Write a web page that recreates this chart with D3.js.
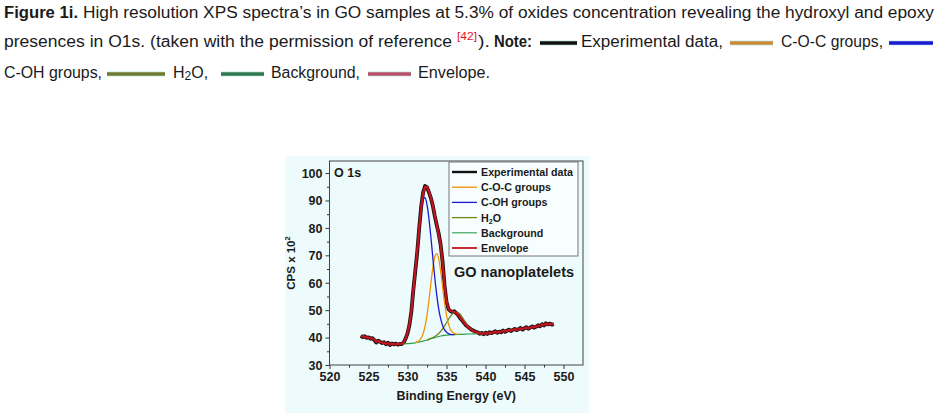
<!DOCTYPE html>
<html><head><meta charset="utf-8">
<script src="https://cdn.jsdelivr.net/npm/d3@7/dist/d3.min.js"></script>
<style>body{margin:0;background:#fff}svg{display:block}</style>
</head><body>
<svg id="c" width="938" height="413"></svg>
<script>
// ---------- data ----------
const xTickValues = [520, 525, 530, 535, 540, 545, 550];
const xMinorTicks = [522.5, 527.5, 532.5, 537.5, 542.5, 547.5];
const yTickValues = [30, 40, 50, 60, 70, 80, 90, 100];
const yMinorTicks = [35, 45, 55, 65, 75, 85, 95];

// experimental data, binding energy starts at 524.0 eV, step 0.25 eV
const expStart = 524.0, expStep = 0.25;
const expValues = [
 40.6,40.2,40.5,39.9,40.1,39.6,39.8,39.1,38.2,38.9,38.4,38.0,38.3,37.6,38.1,37.3,37.9,37.5,37.8,37.4,
 37.7,37.6,38.2,39.6,41.5,44.6,49.6,57.5,64.3,71.2,80.0,87.6,92.9,95.3,94.8,93.0,90.9,88.0,84.3,81.0,
 77.9,73.8,67.6,59.0,53.0,50.4,49.7,49.3,49.6,48.9,48.2,47.1,46.3,45.4,44.5,43.9,43.3,42.8,42.5,42.1,
 41.9,41.4,41.7,41.2,41.8,41.3,42.0,41.6,41.9,42.3,41.7,42.2,41.9,42.6,42.1,42.5,42.9,42.4,42.8,43.2,
 42.7,43.1,43.5,42.9,43.4,43.8,43.2,43.7,44.1,43.6,44.0,44.5,44.1,44.9,44.4,45.2,44.8,45.1,44.7,44.9
];
const envelopeValues = [
 40.5,40.3,40.4,40.0,40.0,39.7,39.7,39.2,38.4,38.8,38.4,38.1,38.2,37.7,38.0,37.4,37.8,37.6,37.7,37.5,
 37.7,37.7,38.3,39.7,41.6,44.8,49.8,57.2,64.5,71.5,79.8,87.3,92.6,95.0,94.9,93.2,91.0,88.2,84.6,81.2,
 77.6,73.6,67.4,59.4,53.4,50.6,49.8,49.5,49.4,49.0,48.3,47.3,46.4,45.5,44.6,43.9,43.3,42.8,42.4,42.1,
 41.8,41.5,41.6,41.3,41.7,41.4,41.9,41.6,41.9,42.2,41.8,42.2,42.0,42.5,42.2,42.5,42.8,42.5,42.8,43.1,
 42.8,43.1,43.4,43.0,43.4,43.7,43.3,43.7,44.0,43.7,44.0,44.4,44.2,44.8,44.5,45.1,44.8,45.0,44.8,44.9
];

const cohE = [529.5,529.75,530,530.25,530.5,530.75,531,531.25,531.5,531.75,532,532.25,532.5,532.75,533,533.25,533.5,533.75,534,534.25,534.5,534.75,535,535.25,535.5,536];
const cohV = [38.8,39.95,41.9,44.95,49.5,55.7,63.3,71.75,79.9,86.45,90.45,91.0,88.5,83.4,76.6,69.1,61.8,55.5,50.5,46.9,44.4,42.8,42.0,41.45,41.2,41.1];

const cocE = [531,531.25,531.5,531.75,532,532.25,532.5,532.75,533,533.25,533.5,533.75,534,534.25,534.5,534.75,535,535.25,535.5,535.75,536,536.5];
const cocV = [38.2,38.45,38.9,39.8,41.4,44.1,48.2,53.6,59.8,65.5,69.5,70.6,68.7,64.2,58.5,52.8,48.2,45.0,43.0,42.0,41.5,41.2];

const h2oE = [532.5,533,533.5,534,534.5,535,535.5,536,536.5,537,537.5,538,538.5,539,539.5,540];
const h2oV = [39.1,39.7,40.4,41.5,43.2,45.4,47.7,49.2,49.1,47.5,45.3,43.4,42.3,41.7,41.5,41.5];

const bgE = [529.3,530,530.5,531,531.5,532,532.5,533,533.5,534,534.5,535,535.5,536,537,538,539,540,540.5];
const bgV = [37.7,37.8,37.9,38.1,38.4,38.7,39.1,39.6,40.0,40.4,40.7,40.9,41.0,41.1,41.2,41.3,41.4,41.5,41.55];

const legendLabels = ["Experimental data", "C-O-C groups", "C-OH groups", "H2O", "Background", "Envelope"];
const seriesColors = {exp:"#111111", coc:"#f39200", coh:"#1a1ad6", h2o:"#6d8a1e", bg:"#2e9e4a", env:"#c3131e"};

// ---------- drawing ----------
const svg = d3.select("#c");
svg.append("rect").attr("x",0).attr("y",0).attr("width",938).attr("height",413).attr("fill","#ffffff");

// caption
const capFont = "'Liberation Sans Narrow','Arial Narrow','Liberation Sans',Arial,sans-serif";
const cap = svg.append("g").attr("font-family", capFont).attr("font-size", 16).attr("fill", "#1a1a1a");
function capText(str, x0, x1, y, opts={}) {
  const t = cap.append("text").attr("x", x0).attr("y", y).text(str);
  if (opts.bold) t.attr("font-weight", "bold");
  if (opts.fill) t.attr("fill", opts.fill);
  if (opts.size) t.attr("font-size", opts.size);
  t.attr("textLength", x1 - x0).attr("lengthAdjust", "spacingAndGlyphs");
  return t;
}
function capLine(x0, x1, y, color) {
  cap.append("line").attr("x1", x0).attr("x2", x1).attr("y1", y).attr("y2", y)
    .attr("stroke", "#d8f0ee").attr("stroke-width", 5.5);
  cap.append("line").attr("x1", x0).attr("x2", x1).attr("y1", y).attr("y2", y)
    .attr("stroke", color).attr("stroke-width", 3.5);
}
capText("Figure 1i.", 4, 78, 18, {bold:true});
capText("High resolution XPS spectra\u2019s in GO samples at 5.3% of oxides concentration revealing the hydroxyl and epoxy", 83, 934, 18);
capText("presences in O1s. (taken with the permission of reference", 4, 452, 47);
capText("[42]", 457, 477, 40, {fill:"#e8141b", size:11});
capText(").", 478, 490, 47);
capText("Note:", 494, 532, 47, {bold:true});
capLine(540, 577, 43, "#111111");
capText("Experimental data,", 581, 723, 47);
capLine(730, 773, 43, "#c98a3a");
capText("C-O-C groups,", 781, 883, 47);
capLine(889, 933, 43, "#1a1ad0");
capText("C-OH groups,", 4, 102, 77.5);
capLine(107, 165, 74, "#6f7a30");
const h2oCap = cap.append("text").attr("x", 173).attr("y", 77.5);
h2oCap.append("tspan").text("H");
h2oCap.append("tspan").attr("font-size", 12).attr("dy", 2).text("2");
h2oCap.append("tspan").attr("dy", -2).text("O,");
capLine(221, 264, 74, "#2f7a4c");
capText("Background,", 271, 360, 77.5);
capLine(368, 411, 74, "#b5526a");
capText("Envelope.", 418, 490, 77.5);

// chart image background
svg.append("rect").attr("x", 285).attr("y", 156).attr("width", 304).attr("height", 257).attr("fill", "#eefbfc");

const x = d3.scaleLinear().domain([520, 552.5]).range([329.5, 583]);
const y = d3.scaleLinear().domain([30, 104.4]).range([365, 161]);

const chart = svg.append("g").attr("font-family", "'Liberation Sans',Arial,sans-serif");

// axes
const xAxis = chart.append("g").attr("transform", `translate(0,${y(30)})`)
  .call(d3.axisBottom(x).tickValues(xTickValues).tickSize(4).tickSizeOuter(0).tickPadding(3).tickFormat(d3.format("d")));
const xMinorAxis = chart.append("g").attr("transform", `translate(0,${y(30)})`)
  .call(d3.axisBottom(x).tickValues(xMinorTicks).tickSize(2.5).tickSizeOuter(0).tickFormat(""));
const yAxis = chart.append("g").attr("transform", `translate(${x(520)},0)`)
  .call(d3.axisLeft(y).tickValues(yTickValues).tickSize(4).tickSizeOuter(0).tickPadding(3).tickFormat(d3.format("d")));
const yMinorAxis = chart.append("g").attr("transform", `translate(${x(520)},0)`)
  .call(d3.axisLeft(y).tickValues(yMinorTicks).tickSize(2.5).tickSizeOuter(0).tickFormat(""));
[xAxis, xMinorAxis, yAxis, yMinorAxis].forEach(g => {
  g.select(".domain").remove();
  g.selectAll("line").attr("stroke", "#333");
  g.selectAll("text").attr("font-size", 12.5).attr("font-weight", "bold").attr("fill", "#1a1a1a");
});
yAxis.selectAll("text").attr("dy", "0.35em");

// frame
chart.append("rect").attr("x", x(520)).attr("y", y(104.4)).attr("width", x(552.5) - x(520)).attr("height", y(30) - y(104.4))
  .attr("fill", "none").attr("stroke", "#444").attr("stroke-width", 1);

// axis labels
chart.append("text").attr("x", (x(520) + x(552.5)) / 2).attr("y", 400).attr("text-anchor", "middle")
  .attr("font-size", 12.5).attr("font-weight", "bold").attr("fill", "#1a1a1a").text("Binding Energy (eV)");
const yl = chart.append("text").attr("transform", `translate(295,${(y(30) + y(104.4)) / 2}) rotate(-90)`)
  .attr("text-anchor", "middle").attr("font-size", 11.5).attr("font-weight", "bold").attr("fill", "#1a1a1a");
yl.append("tspan").text("CPS x 10");
yl.append("tspan").attr("font-size", 7.5).attr("dy", -5).text("2");

// series
const plot = chart.append("g");
const expPts = expValues.map((v, i) => [expStart + i * expStep, v]);
const envPts = envelopeValues.map((v, i) => [expStart + i * expStep, v]);
const lineLin = d3.line().x(d => x(d[0])).y(d => y(d[1]));
const lineSmooth = d3.line().x(d => x(d[0])).y(d => y(d[1])).curve(d3.curveMonotoneX);
const zip = (a, b) => a.map((v, i) => [v, b[i]]);

plot.append("path").attr("d", lineLin(expPts)).attr("fill", "none").attr("stroke", seriesColors.exp).attr("stroke-width", 3.8).attr("stroke-linejoin", "round");
plot.append("path").attr("d", lineSmooth(zip(bgE, bgV))).attr("fill", "none").attr("stroke", seriesColors.bg).attr("stroke-width", 1.2);
plot.append("path").attr("d", lineSmooth(zip(h2oE, h2oV))).attr("fill", "none").attr("stroke", seriesColors.h2o).attr("stroke-width", 1.3);
plot.append("path").attr("d", lineSmooth(zip(cocE, cocV))).attr("fill", "none").attr("stroke", seriesColors.coc).attr("stroke-width", 1.3);
plot.append("path").attr("d", lineSmooth(zip(cohE, cohV))).attr("fill", "none").attr("stroke", seriesColors.coh).attr("stroke-width", 1.3);
plot.append("path").attr("d", lineLin(envPts)).attr("fill", "none").attr("stroke", seriesColors.env).attr("stroke-width", 2.3).attr("stroke-linejoin", "round");

// text annotations
chart.append("text").attr("x", 334).attr("y", 177).attr("font-size", 12.5).attr("font-weight", "bold").attr("fill", "#1a1a1a").text("O 1s");
chart.append("text").attr("x", 454).attr("y", 277).attr("font-size", 14.5).attr("font-weight", "bold").attr("fill", "#1a1a1a").text("GO nanoplatelets");

// legend
const lg = chart.append("g");
lg.append("rect").attr("x", 449).attr("y", 162).attr("width", 129).attr("height", 94).attr("fill", "#f8fefe").attr("stroke", "#777").attr("stroke-width", 1);
const legColors = [seriesColors.exp, seriesColors.coc, seriesColors.coh, seriesColors.h2o, seriesColors.bg, seriesColors.env];
const legWidths = [2.4, 1.3, 1.3, 1.3, 1.1, 1.8];
legendLabels.forEach((lab, i) => {
  const cy = 172 + i * 15.2;
  lg.append("line").attr("x1", 452).attr("x2", 477).attr("y1", cy).attr("y2", cy).attr("stroke", legColors[i]).attr("stroke-width", legWidths[i]);
  const t = lg.append("text").attr("x", 481).attr("y", cy + 4).attr("font-size", 10.7).attr("font-weight", "bold").attr("fill", "#1a1a1a");
  if (lab === "H2O") {
    t.append("tspan").text("H");
    t.append("tspan").attr("font-size", 7).attr("dy", 2).text("2");
    t.append("tspan").attr("dy", -2).text("O");
  } else {
    t.text(lab);
  }
});
</script>
</body></html>
